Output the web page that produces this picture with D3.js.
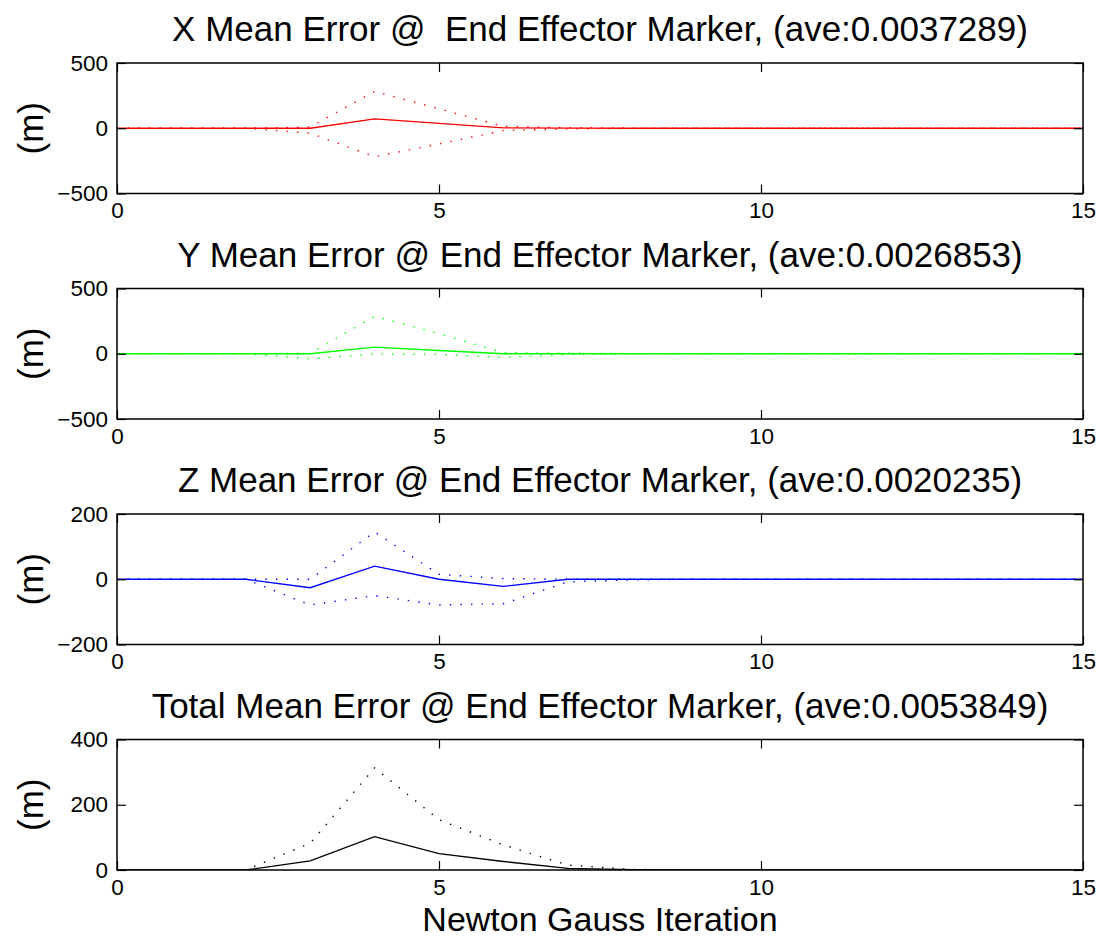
<!DOCTYPE html>
<html>
<head>
<meta charset="utf-8">
<script src="https://cdn.jsdelivr.net/npm/d3@7"></script>
<style>
  html, body { margin: 0; padding: 0; background: #fff; }
  svg { display: block; font-family: "Liberation Sans", Arial, Helvetica, sans-serif; }
</style>
</head>
<body>
<svg id="chart" width="1102" height="939"></svg>
<script>
// Newton-Gauss iteration index
const iterations = d3.range(0, 16);

// X error: mean and upper/lower spread
const xMean  = [0, 0, 0, 0, 72, 38, 3, 1, 0, 0, 0, 0, 0, 0, 0, 0];
const xUpper = [0, 0, 0, 10, 282, 149, 15, 5, 1, 0, 0, 0, 0, 0, 0, 0];
const xLower = [0, 0, 0, -38, -218, -120, -18, -5, -1, 0, 0, 0, 0, 0, 0, 0];

// Y error
const yMean  = [0, 0, 0, 0, 51, 25, 0, 0, 0, 0, 0, 0, 0, 0, 0, 0];
const yUpper = [0, 0, 0, 3, 287, 154, 8, 4, 1, 0, 0, 0, 0, 0, 0, 0];
const yLower = [0, 0, 0, -38, -3, -5, -28, -5, -1, 0, 0, 0, 0, 0, 0, 0];

// Z error
const zMean  = [0, 0, 0, -26, 40, 0, -22, 0, 0, 0, 0, 0, 0, 0, 0, 0];
const zUpper = [0, 0, 0, 0, 145, 15, 2, 0, 0, 0, 0, 0, 0, 0, 0, 0];
const zLower = [0, 0, 0, -79, -50, -79, -75, -8, -2, 0, 0, 0, 0, 0, 0, 0];

// Total error
const tMean  = [0, 0, 0, 28, 102, 50, 26, 5, 1, 0, 0, 0, 0, 0, 0, 0];
const tUpper = [0, 0, 0, 82, 313, 154, 77, 15, 2, 0, 0, 0, 0, 0, 0, 0];

const titles = [
  "X Mean Error @  End Effector Marker, (ave:0.0037289)",
  "Y Mean Error @ End Effector Marker, (ave:0.0026853)",
  "Z Mean Error @ End Effector Marker, (ave:0.0020235)",
  "Total Mean Error @ End Effector Marker, (ave:0.0053849)"
];
const colors = ["#ff0000", "#00ff00", "#0000ff", "#000000"];
const yDomains = [[-500, 500], [-500, 500], [-200, 200], [0, 400]];
const yTickValues = [[-500, 0, 500], [-500, 0, 500], [-200, 0, 200], [0, 200, 400]];
const xTickValues = [0, 5, 10, 15];
const seriesSets = [
  [xMean, xUpper, xLower],
  [yMean, yUpper, yLower],
  [zMean, zUpper, zLower],
  [tMean, tUpper]
];
const yLabel = "(m)";
const xLabel = "Newton Gauss Iteration";

const svg = d3.select("#chart");
const left = 117, right = 1083, panelH = 130.5;
const tops = [63, 288.5, 514, 739.5];
const tickLen = 9;
const fmt = v => (v < 0 ? "\u2212" + Math.abs(v) : String(v));

const x = d3.scaleLinear().domain([0, 15]).range([left, right]);

seriesSets.forEach((set, i) => {
  const top = tops[i], bottom = top + panelH;
  const y = d3.scaleLinear().domain(yDomains[i]).range([bottom, top]);
  const g = svg.append("g");

  const line = d3.line().x((d, k) => x(iterations[k])).y(d => y(d));

  // clip to the plot box
  const clipId = "clip" + i;
  svg.append("clipPath").attr("id", clipId)
    .append("rect").attr("x", left).attr("y", top)
    .attr("width", right - left).attr("height", panelH);
  const plot = g.append("g").attr("clip-path", `url(#${clipId})`);

  // spread lines (dotted)
  set.slice(1).forEach(s => {
    plot.append("path").datum(s)
      .attr("d", line)
      .attr("fill", "none")
      .attr("stroke", colors[i])
      .attr("stroke-width", 1.4)
      .attr("stroke-dasharray", "1.4,9.2");
  });
  // mean line (solid)
  plot.append("path").datum(set[0])
    .attr("d", line)
    .attr("fill", "none")
    .attr("stroke", colors[i])
    .attr("stroke-width", 1.3);

  // axes with inward ticks on all four sides
  const bottomAxis = d3.axisBottom(x).tickValues(xTickValues).tickSize(-tickLen).tickPadding(9).tickFormat(d3.format("d"));
  const topAxis = d3.axisTop(x).tickValues(xTickValues).tickSize(-tickLen).tickFormat("");
  const leftAxis = d3.axisLeft(y).tickValues(yTickValues[i]).tickSize(-tickLen).tickPadding(9).tickFormat(fmt);
  const rightAxis = d3.axisRight(y).tickValues(yTickValues[i]).tickSize(-tickLen).tickFormat("");

  const ax = [
    g.append("g").attr("transform", `translate(0,${bottom})`).call(bottomAxis),
    g.append("g").attr("transform", `translate(0,${top})`).call(topAxis),
    g.append("g").attr("transform", `translate(${left},0)`).call(leftAxis),
    g.append("g").attr("transform", `translate(${right},0)`).call(rightAxis)
  ];
  ax.forEach(a => {
    a.select(".domain").remove();
    a.selectAll("line").attr("stroke", "#000").attr("stroke-width", 1.2);
    a.selectAll("text").attr("fill", "#000").style("font-size", "22.5px")
      .style("font-family", '"Liberation Sans", Arial, Helvetica, sans-serif');
  });

  // box
  g.append("rect")
    .attr("x", left).attr("y", top)
    .attr("width", right - left).attr("height", panelH)
    .attr("fill", "none").attr("stroke", "#000").attr("stroke-width", 1.5);

  // title
  g.append("text")
    .attr("x", (left + right) / 2).attr("y", top - 22)
    .attr("text-anchor", "middle")
    .style("font-size", "35px")
    .style("white-space", "pre")
    .attr("xml:space", "preserve")
    .text(titles[i]);

  // y label
  g.append("text")
    .attr("transform", `translate(43,${top + panelH / 2}) rotate(-90)`)
    .attr("text-anchor", "middle")
    .style("font-size", "35px")
    .text(yLabel);
});

// x label
svg.append("text")
  .attr("x", (left + right) / 2).attr("y", 931)
  .attr("text-anchor", "middle")
  .style("font-size", "34px")
  .text(xLabel);
</script>
</body>
</html>
